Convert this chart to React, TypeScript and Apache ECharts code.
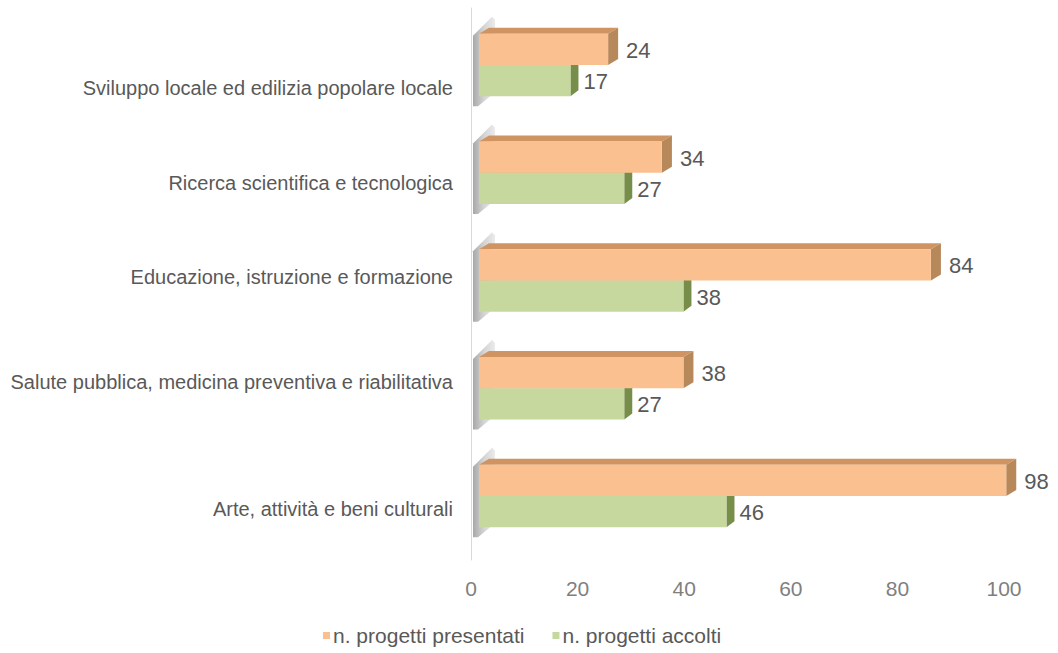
import React, { useEffect, useRef } from "react";
import * as echarts from "echarts";

// Categories listed bottom -> top (ECharts category y-axis starts at bottom)
const categories = [
  "Arte, attività e beni culturali",
  "Salute pubblica, medicina preventiva e riabilitativa",
  "Educazione, istruzione e formazione",
  "Ricerca scientifica e tecnologica",
  "Sviluppo locale ed edilizia popolare locale",
];
const presentati = [98, 38, 84, 34, 24];
const accolti = [46, 27, 38, 27, 17];
const seriesNames = ["n. progetti presentati", "n. progetti accolti"];
const xTicks = [0, 20, 40, 60, 80, 100];
// vertical nudge of the category labels (style only)
const labelNudge = [13, -6, -4, 10, 23];

const ORANGE = { front: "#FAC090", top: "#CF9462", side: "#B7885A" };
const GREEN = { front: "#C6D89D", top: "#9FB46E", side: "#778E4A" };
const FONT = "'Liberation Sans', Arial, sans-serif";

function makeRender(kind: "top" | "bottom") {
  const col = kind === "top" ? ORANGE : GREEN;
  return (params: any, api: any) => {
    const v = api.value(0);
    const c = api.value(1);
    const s = api.coord([0, c]);
    const e = api.coord([v, c]);
    const band = api.size([0, 1])[1];
    const h = band * 0.29;
    const yc = s[1];
    const y0 = kind === "top" ? yc - h : yc;
    const xs = s[0];
    const xe = e[0];
    const dx = kind === "top" ? 10 : 8;
    const dy = 6;
    const children: any[] = [];
    if (kind === "bottom") {
      const topY = yc - h;
      const botY = yc + h;
      children.push({
        type: "polygon",
        shape: {
          points: [
            [xs - 6, topY + 2],
            [xs + 13, topY - 17],
            [xs + 16, topY - 14],
            [xs + 16, botY - 4],
            [xs - 1, botY + 10],
            [xs - 6, botY + 10],
          ],
        },
        style: {
          fill: new echarts.graphic.LinearGradient(0, 0, 1, 0, [
            { offset: 0, color: "#a8a8a8" },
            { offset: 0.5, color: "#d4d4d4" },
            { offset: 1, color: "#ebebeb" },
          ]),
        },
      });
    }
    children.push({
      type: "polygon",
      shape: {
        points: [
          [xs, y0],
          [xs + dx, y0 - dy],
          [xe + dx, y0 - dy],
          [xe, y0],
        ],
      },
      style: { fill: col.top },
    });
    children.push({
      type: "polygon",
      shape: {
        points: [
          [xe, y0],
          [xe + dx, y0 - dy],
          [xe + dx, y0 + h - dy],
          [xe, y0 + h],
        ],
      },
      style: { fill: col.side },
    });
    children.push({
      type: "rect",
      shape: { x: xs, y: y0, width: xe - xs, height: h },
      style: { fill: col.front },
    });
    children.push({
      type: "text",
      x: xe + (kind === "top" ? 18 : 13),
      y: y0 + h / 2 + 1,
      style: {
        text: String(v),
        fill: "#595959",
        font: `22px ${FONT}`,
        verticalAlign: "middle",
        align: "left",
      },
    });
    return { type: "group", children };
  };
}

export default function App() {
  const ref = useRef<HTMLDivElement>(null);
  useEffect(() => {
    document.body.style.margin = "0";
    const chart = echarts.init(ref.current!, null, { renderer: "svg" });
    const rich: any = {};
    labelNudge.forEach((n, i) => {
      rich["n" + i] = {
        fontSize: 20,
        fontFamily: FONT,
        color: "#595959",
        padding: n >= 0 ? [2 * n, 0, 0, 0] : [0, 0, -2 * n, 0],
      };
    });
    chart.setOption({
      animation: false,
      backgroundColor: "#ffffff",
      grid: [
        { left: 479, right: 41, top: 11, bottom: 103, containLabel: false, outerBoundsMode: "none" },
        { left: 471, right: 54, top: 8, bottom: 93, containLabel: false, outerBoundsMode: "none" },
      ],
      xAxis: [
        { type: "value", gridIndex: 0, min: 0, max: 100, show: false },
        {
          type: "value",
          gridIndex: 1,
          min: 0,
          max: 100,
          interval: 20,
          axisLine: { show: false },
          axisTick: { show: false },
          splitLine: { show: false },
          axisLabel: {
            margin: 18,
            fontSize: 21,
            fontFamily: FONT,
            color: "#7f7f7f",
            formatter: (v: number) => (xTicks.includes(v) ? String(v) : ""),
          },
        },
      ],
      yAxis: [
        {
          type: "category",
          gridIndex: 0,
          data: categories,
          axisLine: { show: false },
          axisTick: { show: false },
          splitLine: { show: false },
          axisLabel: {
            margin: 26,
            fontSize: 20,
            fontFamily: FONT,
            color: "#595959",
            formatter: (val: string, idx: number) => `{n${idx}|${val}}`,
            rich,
          },
        },
        {
          type: "value",
          gridIndex: 1,
          min: 0,
          max: 1,
          axisLine: { show: true, lineStyle: { color: "#d9d9d9", width: 1 } },
          axisTick: { show: false },
          axisLabel: { show: false },
          splitLine: { show: false },
        },
      ],
      legend: {
        data: seriesNames,
        left: 318,
        top: 620,
        icon: "rect",
        itemWidth: 7,
        itemHeight: 7,
        itemGap: 28,
        textStyle: { fontSize: 21, fontFamily: FONT, color: "#595959", padding: [0, 0, 0, -2] },
      },
      series: [
        {
          name: seriesNames[1],
          type: "custom",
          xAxisIndex: 0,
          yAxisIndex: 0,
          renderItem: makeRender("bottom"),
          itemStyle: { color: GREEN.front },
          encode: { x: 0, y: 1 },
          data: accolti.map((v, i) => [v, i]),
        },
        {
          name: seriesNames[0],
          type: "custom",
          xAxisIndex: 0,
          yAxisIndex: 0,
          renderItem: makeRender("top"),
          itemStyle: { color: ORANGE.front },
          encode: { x: 0, y: 1 },
          data: presentati.map((v, i) => [v, i]),
        },
      ],
    });
    return () => chart.dispose();
  }, []);
  return <div ref={ref} style={{ width: 1058, height: 653 }} />;
}
